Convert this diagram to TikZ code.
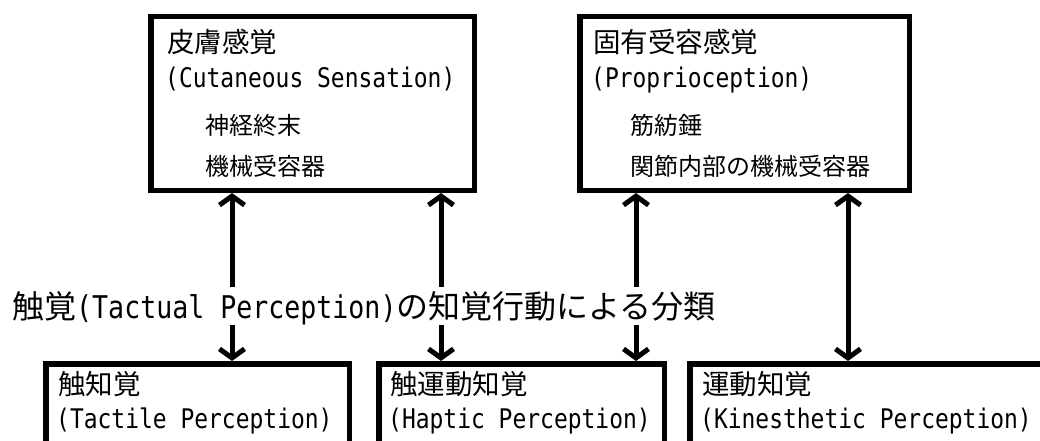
\documentclass[tikz,border=0pt]{standalone}
\usepackage{fontspec}
\newfontfamily\jpfont{Noto Sans CJK JP}
\newfontfamily\monofont[FakeStretch=0.85]{DejaVu Sans Mono}
\usetikzlibrary{arrows.meta}
\newcommand{\jtitle}[1]{{\jpfont\fontsize{27.5}{30}\selectfont #1}}
\newcommand{\jsub}[1]{{\jpfont\fontsize{24}{27}\selectfont #1}}
\newcommand{\lat}[1]{{\monofont\fontsize{27}{30}\selectfont #1}}
\tikzset{
  box/.style={draw, line width=5.5pt, anchor=north west, inner sep=0pt, minimum height=173.5pt},
  lbl/.style={anchor=base west, inner sep=0pt},
  dbl/.style={line width=5pt, {Straight Barb[length=9pt,width=25pt]}-{Straight Barb[length=9pt,width=25pt]}}
}
\begin{document}
\begin{tikzpicture}[x=1pt,y=-1pt]
\useasboundingbox (0,0) rectangle (1040,441);
\clip (0,0) rectangle (1040,441);
\fill[white] (0,0) rectangle (1040,441);
% boxes
\node[box, minimum width=323.5pt] (A) at (148,14) {};
\node[box, minimum width=329.5pt] (B) at (577,14) {};
\node[box, minimum width=303.5pt, minimum height=103.5pt] (C) at (43,361) {};
\node[box, minimum width=285.5pt, minimum height=103.5pt] (D) at (376,361) {};
\node[box, minimum width=387.5pt, minimum height=103.5pt] (E) at (687,361) {};
% texts in top boxes
\node[lbl] (a1) at (167,53) {\jtitle{皮膚感覚}};
\node[lbl] (a2) at (165,88) {\lat{(Cutaneous Sensation)}};
\node[lbl] (a3) at (205,135) {\jsub{神経終末}};
\node[lbl] (a4) at (205,175) {\jsub{機械受容器}};
\node[lbl] (b1) at (593,53) {\jtitle{固有受容感覚}};
\node[lbl] (b2) at (591,88) {\lat{(Proprioception)}};
\node[lbl] (b3) at (630,135) {\jsub{筋紡錘}};
\node[lbl] (b4) at (630,175) {\jsub{関節内部の機械受容器}};
% texts in bottom boxes
\node[lbl] (c1) at (58,394) {\jtitle{触知覚}};
\node[lbl] (c2) at (56,428) {\lat{(Tactile Perception)}};
\node[lbl] (d1) at (390,394) {\jtitle{触運動知覚}};
\node[lbl] (d2) at (388,428) {\lat{(Haptic Perception)}};
\node[lbl] (e1) at (702,394) {\jtitle{運動知覚}};
\node[lbl] (e2) at (700,428) {\lat{(Kinesthetic Perception)}};
% arrows
\coordinate (xa) at (232,0);
\coordinate (xb) at (441,0);
\coordinate (xc) at (636,0);
\coordinate (xd) at (848,0);
\draw[dbl] (A.south -| xa) -- (C.north -| xa);
\draw[dbl] (A.south -| xb) -- (D.north -| xb);
\draw[dbl] (B.south -| xc) -- (D.north -| xc);
\draw[dbl] (B.south -| xd) -- (E.north -| xd);
% middle label
\node[anchor=base west, fill=white, inner xsep=2pt, inner ysep=3pt, text height=28pt, text depth=4pt] (mid) at (10,318)
  {{\jpfont\fontsize{32}{35}\selectfont 触覚}{\monofont\fontsize{31.3}{34}\selectfont (Tactual Perception)}{\jpfont\fontsize{32}{35}\selectfont の知覚行動による分類}};
\end{tikzpicture}
\end{document}
